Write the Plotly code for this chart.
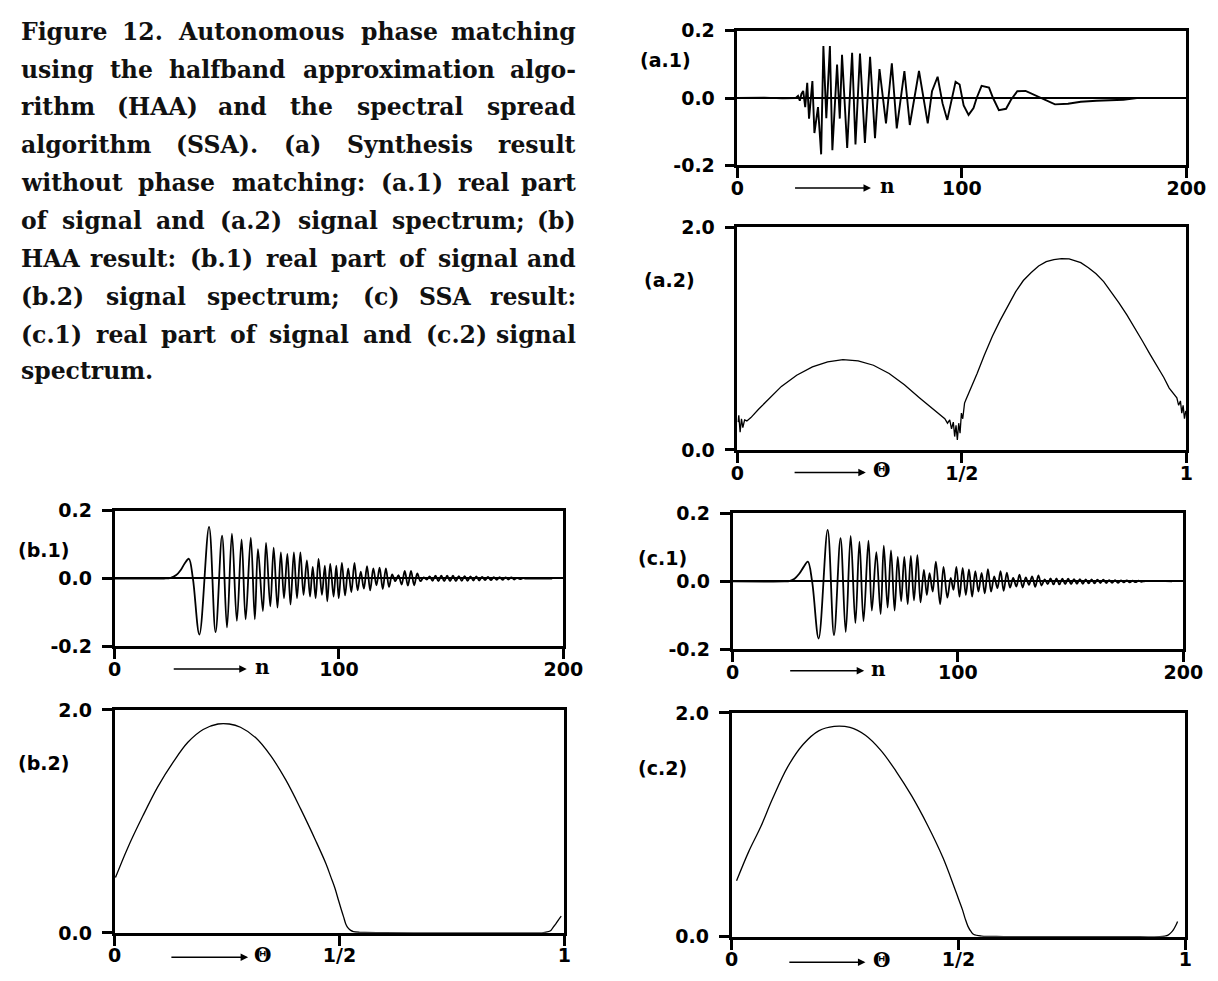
import plotly.graph_objects as go

# ---------------- data ----------------
# (a.1) real part of signal without phase matching  (n, value)
A1_N = [0, 12, 20, 25, 26.0, 27.0, 27.8, 28.5, 29.3, 30.2, 31.1, 31.9, 33.4, 34.3, 35.9, 37.3,
        38.3, 39.6, 41.2, 42.3, 44.4, 45.6, 46.6, 48.9, 51.1, 52.6, 54.6, 56.8, 59.1, 61.3,
        63.3, 66.2, 68.8, 71.0, 74.4, 76.8, 80.9, 84.8, 86.7, 89.2, 91.4, 93.5, 95.3, 97.2,
        99.0, 100.8, 103.0, 105.2, 106.6, 108.8, 112.1, 113.9, 116.5, 119.7, 121.9, 124.7,
        128.4, 132.0, 135.6, 138.6, 141.5, 147.3, 153.0, 160.0, 172.0, 178.0]
A1_V = [0, 0.001, -0.001, 0.0, 0.0, 0.006, -0.008, 0.012, 0.021, -0.027, 0.045, -0.061, 0.050,
        -0.104, -0.027, -0.167, 0.154, -0.06, 0.154, -0.155, 0.099, -0.061, 0.128, -0.148,
        0.134, -0.138, 0.132, -0.133, 0.122, -0.119, 0.086, -0.075, 0.103, -0.09, 0.08, -0.08,
        0.08, -0.075, 0.02, 0.063, -0.016, -0.065, -0.01, 0.048, 0.040, -0.022, -0.050, -0.030,
        0.0, 0.036, 0.031, 0.0, -0.036, -0.032, -0.005, 0.020, 0.021, 0.010, 0.0, -0.011,
        -0.019, -0.017, -0.011, -0.008, -0.005, 0.0]

# (a.2) spectrum without phase matching  (theta, |X|)
A2_T = [0.001, 0.003, 0.006, 0.009, 0.012, 0.016, 0.021, 0.030, 0.047, 0.073, 0.098, 0.132,
        0.167, 0.201, 0.235, 0.269, 0.303, 0.338, 0.372, 0.406, 0.440, 0.455, 0.462, 0.468,
        0.473, 0.477, 0.481, 0.484, 0.487, 0.490, 0.493, 0.496, 0.499, 0.502, 0.506, 0.509,
        0.520, 0.534, 0.550, 0.568, 0.585, 0.603, 0.620, 0.637, 0.654, 0.671, 0.688, 0.705,
        0.722, 0.739, 0.752, 0.765, 0.782, 0.799, 0.816, 0.833, 0.850, 0.868, 0.885, 0.902,
        0.919, 0.936, 0.950, 0.962, 0.972, 0.979, 0.983, 0.987, 0.990, 0.993, 0.996, 0.999]
A2_V = [0.25, 0.31, 0.16, 0.28, 0.20, 0.27, 0.26, 0.29, 0.365, 0.467, 0.57, 0.67, 0.745, 0.79,
        0.81, 0.80, 0.76, 0.686, 0.584, 0.467, 0.35, 0.30, 0.28, 0.24, 0.27, 0.19, 0.25, 0.12,
        0.22, 0.09, 0.24, 0.15, 0.33, 0.28, 0.42, 0.45, 0.55, 0.686, 0.85, 1.02, 1.16, 1.30,
        1.42, 1.52, 1.59, 1.65, 1.69, 1.708, 1.716, 1.714, 1.70, 1.68, 1.635, 1.58, 1.51, 1.42,
        1.32, 1.21, 1.10, 0.98, 0.86, 0.745, 0.65, 0.555, 0.50, 0.467, 0.40, 0.44, 0.33, 0.40,
        0.28, 0.35]

# (b.1) HAA result, real part of signal
B1_N = [0, 22, 25, 27.5, 29.5, 31.3, 33.1, 34.9, 37.8, 42.1, 45.0, 47.9, 50.1, 52.3, 54.5,
        56.6, 58.4, 60.7, 62.5, 63.9, 66.1, 67.5, 69.4, 70.9, 72.6, 74.1, 75.5, 77.0, 78.4,
        79.9, 81.3, 82.8, 84.2, 85.7, 87.1, 88.3, 89.6, 90.9, 92.4, 93.7, 94.8, 96.1, 97.6,
        98.8, 99.9, 101.3, 102.7, 104.1, 105.5, 106.9, 108.3, 109.7, 111.1, 112.5, 113.9,
        115.3, 116.7, 118.1, 119.5, 120.9, 122.3, 123.7, 125.1, 126.5, 127.9, 129.3, 130.7,
        132.1, 133.5, 134.9, 136.3, 137.7, 139.1, 140.4, 141.7, 143.0, 144.3, 145.6, 146.9,
        148.2, 149.5, 150.8, 152.1, 153.4, 154.7, 156.0, 157.3, 158.6, 159.9, 161.2, 162.5,
        163.8, 165.1, 166.4, 167.7, 169.0, 170.3, 171.6, 172.9, 174.2, 175.5, 176.8, 178.1,
        179.4, 180.7, 182.0, 183.3, 195.0]
B1_V = [0, 0, 0.002, 0.010, 0.025, 0.045, 0.058, 0.0, -0.165, 0.152, -0.158, 0.126, -0.144,
        0.132, -0.125, 0.115, -0.12, 0.12, -0.12, 0.086, -0.096, 0.105, -0.082, 0.091, -0.086,
        0.077, -0.058, 0.072, -0.077, 0.077, -0.058, 0.077, -0.048, 0.053, -0.053, 0.034,
        -0.058, 0.058, -0.048, 0.038, -0.067, 0.043, -0.053, 0.038, -0.058, 0.046, -0.050,
        0.030, -0.040, 0.046, -0.035, 0.020, -0.030, 0.036, -0.035, 0.030, -0.020, 0.032,
        -0.031, 0.030, -0.025, 0.012, -0.008, 0.010, -0.018, 0.022, -0.021, 0.022, -0.020,
        0.015, -0.008, 0.003, -0.003, 0.006, -0.007, 0.008, -0.008, 0.008, -0.008, 0.008,
        -0.008, 0.008, -0.008, 0.007, -0.007, 0.007, -0.007, 0.006, -0.006, 0.006, -0.006,
        0.005, -0.005, 0.005, -0.005, 0.004, -0.004, 0.004, -0.004, 0.003, -0.003, 0.003,
        -0.003, 0.002, -0.002, 0.001, 0.0, 0.0]

# (b.2) HAA result, spectrum
B2_T = [0.002, 0.029, 0.063, 0.096, 0.130, 0.163, 0.197, 0.230, 0.255, 0.280, 0.314, 0.347,
        0.381, 0.414, 0.448, 0.470, 0.481, 0.490, 0.498, 0.504, 0.509, 0.514, 0.519, 0.525,
        0.531, 0.545, 0.556, 0.60, 0.70, 0.80, 0.90, 0.950, 0.962, 0.970, 0.975, 0.981,
        0.987, 0.993]
B2_V = [0.496, 0.76, 1.05, 1.31, 1.53, 1.71, 1.825, 1.874, 1.874, 1.845, 1.75, 1.59, 1.37,
        1.11, 0.82, 0.62, 0.50, 0.40, 0.29, 0.21, 0.146, 0.08, 0.044, 0.022, 0.012, 0.005,
        0.003, 0.001, 0.0, 0.0, 0.0, 0.0, 0.008, 0.022, 0.05, 0.08, 0.117, 0.15]

# (c.1) SSA result, real part of signal
C1_N = [0, 23, 25.2, 27.5, 29.5, 31.5, 33.4, 35.3, 38.2, 42.2, 45.0, 47.9, 50.2, 52.4, 54.5,
        56.3, 58.1, 60.3, 61.8, 63.8, 65.7, 67.1, 68.8, 70.3, 71.9, 73.3, 74.8, 76.2, 77.7,
        79.1, 80.5, 82.0, 83.4, 84.9, 86.2, 87.4, 88.8, 90.2, 92.1, 93.6, 95.3, 96.8, 98.0,
        99.3, 100.7, 102.1, 103.5, 104.9, 106.3, 107.7, 109.1, 110.5, 111.9, 113.3, 114.7,
        116.1, 117.5, 118.9, 120.3, 121.7, 123.1, 124.5, 125.9, 127.3, 128.7, 130.1, 131.5,
        132.9, 134.3, 135.7, 137.1, 138.5, 139.8, 141.1, 142.4, 143.7, 145.0, 146.3, 147.6,
        148.9, 150.2, 151.5, 152.8, 154.1, 155.4, 156.7, 158.0, 159.3, 160.6, 161.9, 163.2,
        164.5, 165.8, 167.1, 168.4, 169.7, 171.0, 172.3, 173.6, 174.9, 176.2, 177.5, 178.8,
        180.1, 181.4, 183.0, 195.0]
C1_V = [0, 0, 0.001, 0.008, 0.022, 0.042, 0.058, 0.0, -0.168, 0.152, -0.158, 0.127, -0.149,
        0.134, -0.123, 0.117, -0.117, 0.120, -0.086, 0.086, -0.096, 0.105, -0.077, 0.091,
        -0.086, 0.072, -0.058, 0.072, -0.067, 0.075, -0.056, 0.077, -0.062, 0.034, -0.040,
        0.024, -0.030, 0.058, -0.067, 0.043, -0.048, 0.010, -0.025, 0.043, -0.045, 0.040,
        -0.040, 0.035, -0.045, 0.030, -0.030, 0.025, -0.035, 0.036, -0.030, 0.015, -0.020,
        0.030, -0.028, 0.026, -0.018, 0.010, -0.015, 0.020, -0.018, 0.012, -0.010, 0.015,
        -0.016, 0.018, -0.012, 0.006, -0.008, 0.009, -0.009, 0.009, -0.009, 0.008, -0.008,
        0.008, -0.008, 0.007, -0.007, 0.007, -0.007, 0.006, -0.006, 0.006, -0.006, 0.005,
        -0.005, 0.005, -0.005, 0.004, -0.004, 0.004, -0.004, 0.003, -0.003, 0.003, -0.003,
        0.002, -0.002, 0.002, -0.001, 0.001, 0.0, 0.0]

# (c.2) SSA result, spectrum
C2_T = [0.011, 0.038, 0.064, 0.090, 0.124, 0.158, 0.192, 0.226, 0.261, 0.295, 0.329, 0.363,
        0.397, 0.432, 0.466, 0.491, 0.500, 0.509, 0.515, 0.521, 0.528, 0.534, 0.551, 0.60,
        0.70, 0.80, 0.90, 0.944, 0.955, 0.962, 0.968, 0.974, 0.979, 0.983]
C2_V = [0.50, 0.763, 0.98, 1.23, 1.52, 1.72, 1.84, 1.88, 1.87, 1.80, 1.665, 1.476, 1.258,
        0.996, 0.705, 0.44, 0.34, 0.24, 0.16, 0.093, 0.045, 0.02, 0.006, 0.002, 0.0, 0.0,
        0.0, 0.0, 0.005, 0.015, 0.035, 0.064, 0.10, 0.137]

SIG_TICKS = [0, 100, 200]
SIG_TICKTEXT = ["0", "100", "200"]
SIG_YTICKS = [-0.2, 0.0, 0.2]
SIG_YTICKTEXT = ["-0.2", "0.0", "0.2"]
SPEC_TICKS = [0, 0.5, 1]
SPEC_TICKTEXT = ["0", "1/2", "1"]
SPEC_YTICKS = [0.0, 2.0]
SPEC_YTICKTEXT = ["0.0", "2.0"]
PANEL_LABELS = ["(a.1)", "(a.2)", "(b.1)", "(b.2)", "(c.1)", "(c.2)"]

CAPTION = [
    ["Figure", "12.", "Autonomous", "phase", "matching"],
    ["using", "the", "halfband", "approximation", "algo-"],
    ["rithm", "(HAA)", "and", "the", "spectral", "spread"],
    ["algorithm", "(SSA).", "(a)", "Synthesis", "result"],
    ["without", "phase", "matching:", "(a.1)", "real", "part"],
    ["of", "signal", "and", "(a.2)", "signal", "spectrum;", "(b)"],
    ["HAA", "result:", "(b.1)", "real", "part", "of", "signal", "and"],
    ["(b.2)", "signal", "spectrum;", "(c)", "SSA", "result:"],
    ["(c.1)", "real", "part", "of", "signal", "and", "(c.2)", "signal"],
    ["spectrum."],
]

# ---------------- layout helpers ----------------
W, H = 1218, 981
def px(x):
    return x / W
def py(y):
    return 1 - y / H

TICKFONT = dict(family="DejaVu Sans", size=19, color="black", weight="bold")
SYMFONT = dict(family="DejaVu Serif", size=20, color="black", weight="bold")
CAP_SIZE = 23.5
CAPFONT = dict(family="DejaVu Serif", size=CAP_SIZE, color="#111111", weight="bold")

# approximate advance widths (em) of the bold caption face, used only to justify lines
CHAR_EM = {'a': .675, 'b': .716, 'c': .593, 'd': .716, 'e': .678, 'f': .435, 'g': .716,
           'h': .712, 'i': .343, 'l': .343, 'm': 1.042, 'n': .712, 'o': .687, 'p': .716,
           'r': .493, 's': .595, 't': .478, 'u': .712, 'w': .924, 'x': .663, 'y': .652,
           'A': .774, 'F': .683, 'H': .837, 'S': .720, '(': .457, ')': .457, '.': .380,
           ':': .400, ';': .400, '-': .415, '1': .696, '2': .696}
EM_SCALE = 1.03

def word_width(w):
    return sum(CHAR_EM.get(c, 0.65) for c in w) * EM_SCALE * CAP_SIZE

# panel boxes in pixels: (x0, x1, ytop, ybottom)
BOX = {
    1: (747, 1206, 20, 158),
    2: (747, 1206, 221, 449),
    3: (110, 569, 511, 650),
    4: (110, 570, 715, 943),
    5: (742, 1203, 514, 653),
    6: (741, 1205, 718, 947),
}

fig = go.Figure()

series = [
    (1, A1_N, A1_V, "linear", 1.9),
    (2, A2_T, A2_V, "linear", 1.3),
    (3, B1_N, B1_V, "spline", 1.8),
    (4, B2_T, B2_V, "spline", 1.3),
    (5, C1_N, C1_V, "spline", 1.8),
    (6, C2_T, C2_V, "spline", 1.3),
]
for k, xs, ys, shape, lw in series:
    sfx = "" if k == 1 else str(k)
    fig.add_trace(go.Scatter(x=xs, y=ys, mode="lines",
                             line=dict(color="black", width=lw, shape=shape),
                             xaxis="x" + sfx, yaxis="y" + sfx,
                             hoverinfo="skip", showlegend=False))

layout = dict(width=W, height=H, autosize=False,
              margin=dict(l=0, r=0, t=0, b=0, pad=0),
              paper_bgcolor="white", plot_bgcolor="white",
              showlegend=False)

for k, (x0, x1, yt, yb) in BOX.items():
    sfx = "" if k == 1 else str(k)
    is_sig = k in (1, 3, 5)
    common = dict(showline=True, linecolor="black", linewidth=2.6, mirror=True,
                  ticks="outside", ticklen=10, tickwidth=2.6, tickcolor="black",
                  showgrid=False, tickfont=TICKFONT, fixedrange=True)
    xa = dict(common, domain=[px(x0), px(x1)], anchor="y" + sfx,
              range=[0, 200] if is_sig else [0, 1],
              tickmode="array",
              tickvals=SIG_TICKS if is_sig else SPEC_TICKS,
              ticktext=SIG_TICKTEXT if is_sig else SPEC_TICKTEXT,
              zeroline=False, ticklabelstandoff=-6)
    ya = dict(common, domain=[py(yb), py(yt)], anchor="x" + sfx,
              range=[-0.2, 0.2] if is_sig else [0, 2.0],
              tickmode="array",
              tickvals=SIG_YTICKS if is_sig else SPEC_YTICKS,
              ticktext=SIG_YTICKTEXT if is_sig else SPEC_YTICKTEXT,
              zeroline=is_sig, zerolinecolor="black", zerolinewidth=2.2,
              ticklabelstandoff=6)
    layout["xaxis" + sfx] = xa
    layout["yaxis" + sfx] = ya

annotations = []
# axis-name arrows and symbols below each panel: (axis k, tail, head, label x, label, row y px)
ARROWS = [
    (1, 25, 59.5, 66.7, "n", 181),
    (2, 0.124, 0.286, 0.322, "Θ", 472),
    (3, 25.7, 58.9, 66.0, "n", 673),
    (4, 0.123, 0.297, 0.330, "Θ", 968),
    (5, 24.9, 58.4, 64.6, "n", 675),
    (6, 0.124, 0.295, 0.331, "Θ", 973),
]
for k, tail, head, lx, lab, ry in ARROWS:
    xr = "x" if k == 1 else "x" + str(k)
    annotations.append(dict(x=head, y=py(ry), xref=xr, yref="paper",
                            ax=tail, ay=0, axref=xr, ayref="pixel",
                            text="", showarrow=True, arrowhead=2, arrowsize=1,
                            arrowwidth=1.5, arrowcolor="black"))
    annotations.append(dict(x=lx, y=py(ry - 2), xref=xr, yref="paper", text=lab,
                            showarrow=False, xanchor="center", yanchor="middle",
                            font=SYMFONT))

# panel labels (center positions in px)
LABEL_POS = [(673, 50), (678, 275), (37, 551), (37, 769), (670, 560), (670, 774)]
for lab, (lx, ly) in zip(PANEL_LABELS, LABEL_POS):
    annotations.append(dict(x=px(lx), y=py(ly), xref="paper", yref="paper", text=lab,
                            showarrow=False, xanchor="center", yanchor="middle",
                            font=TICKFONT))

# caption: fully justified lines (last line flush left)
CAP_Y = [21.7, 60, 98.3, 136.7, 176, 215, 253.3, 292.7, 331, 368.3]
LEFT, RIGHT = 12.5, 584
for li, (words, yy) in enumerate(zip(CAPTION, CAP_Y)):
    last_line = li == len(CAPTION) - 1
    widths = [word_width(w) for w in words]
    if last_line or len(words) == 1:
        gap = 0.35 * CAP_SIZE
    else:
        gap = (RIGHT - LEFT - sum(widths)) / (len(words) - 1)
    xcur = LEFT
    for i, w in enumerate(words):
        if (not last_line) and i == len(words) - 1 and len(words) > 1:
            annotations.append(dict(x=px(RIGHT), y=py(yy), xref="paper", yref="paper",
                                    text=w, showarrow=False, xanchor="right",
                                    yanchor="middle", font=CAPFONT))
        else:
            annotations.append(dict(x=px(xcur), y=py(yy), xref="paper", yref="paper",
                                    text=w, showarrow=False, xanchor="left",
                                    yanchor="middle", font=CAPFONT))
        xcur += widths[i] + gap

layout["annotations"] = annotations
fig.update_layout(**layout)
fig.write_html("out.html", config={"displayModeBar": False})
